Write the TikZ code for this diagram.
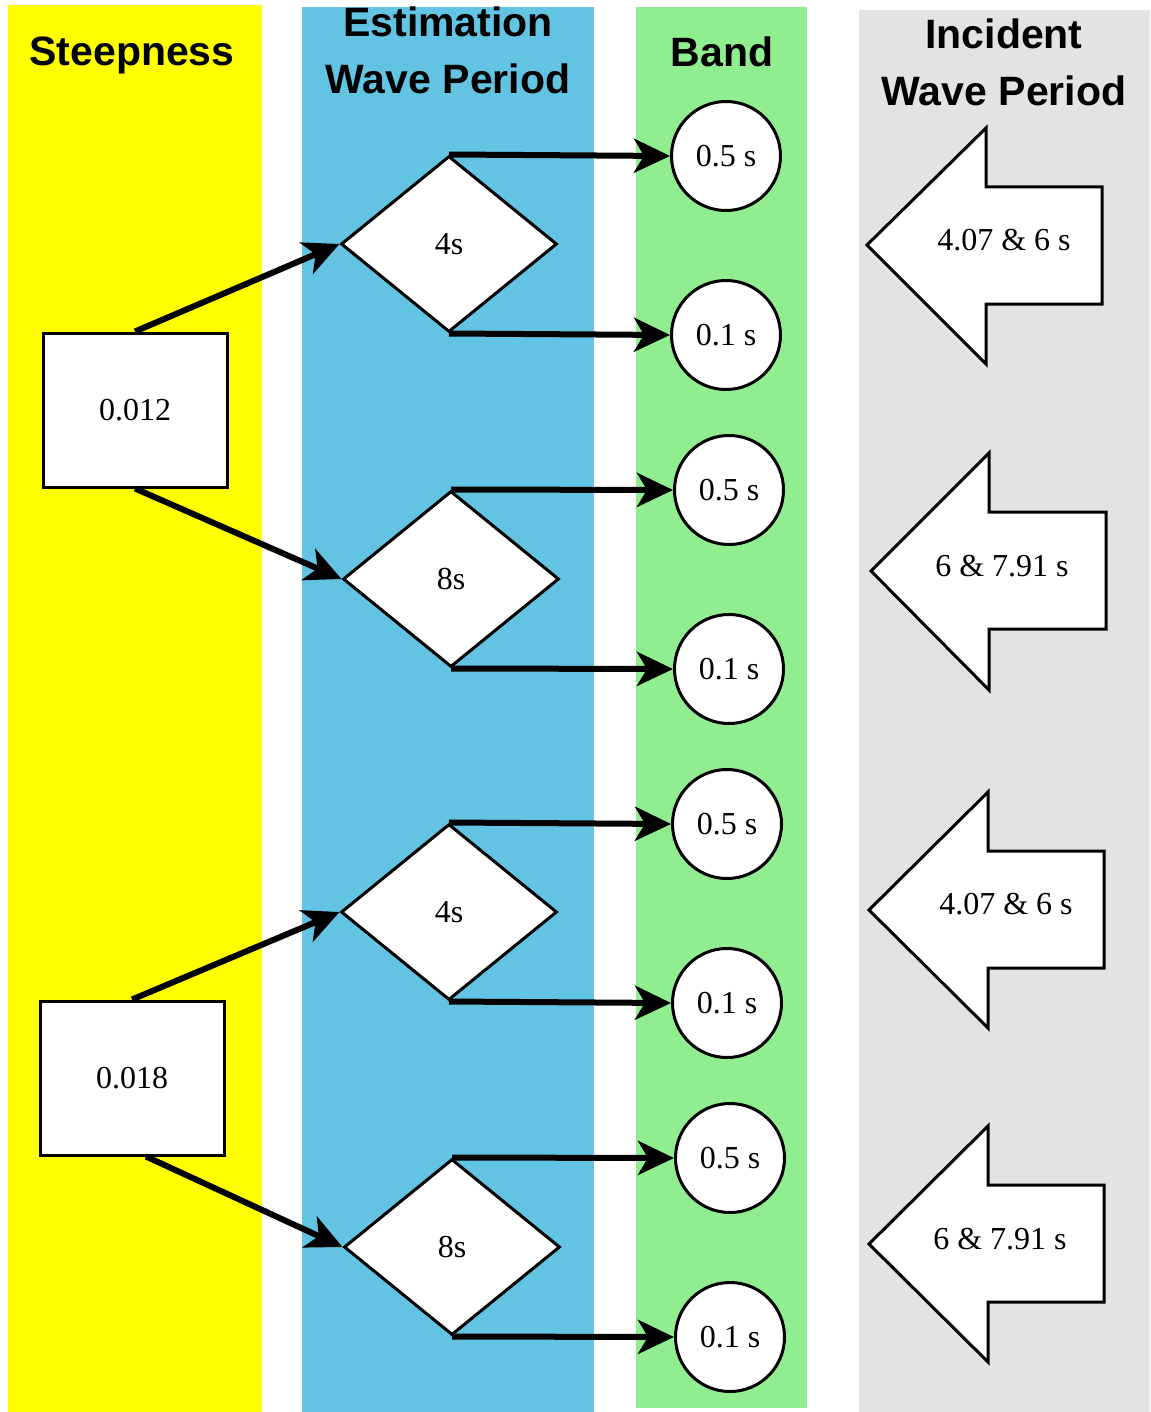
\documentclass[tikz,border=0pt]{standalone}
\usepackage{fontspec}
\setmainfont{Liberation Serif}
\setsansfont{Liberation Sans}
\usetikzlibrary{shapes.geometric,arrows.meta}
\definecolor{colY}{RGB}{255,255,0}
\definecolor{colB}{RGB}{99,195,227}
\definecolor{colG}{RGB}{144,238,144}
\definecolor{colR}{RGB}{227,227,227}
\tikzset{
  band/.style={fill=#1,draw=none},
  title/.style={font=\sffamily\bfseries\fontsize{20.5}{28.5}\selectfont,align=center,inner sep=0pt},
  lbl/.style={font=\fontsize{16}{19}\selectfont},
  steepbox/.style={draw,line width=1.5pt,fill=white,minimum width=92pt,minimum height=77pt,inner sep=0pt,font=\fontsize{16}{19}\selectfont},
  periodbox/.style={draw,diamond,line width=1.5pt,fill=white,minimum width=108pt,minimum height=88pt,inner sep=0pt,font=\fontsize{16}{19}\selectfont},
  bandbox/.style={draw,circle,line width=1.5pt,fill=white,minimum size=54.5pt,inner sep=0pt,font=\fontsize{16}{19}\selectfont},
  blockarrow/.style={draw,line width=1.5pt,fill=white,line join=miter},
  conn/.style={line width=3pt,-{Stealth[length=18pt,width=17pt,inset=5pt]}},
}
\begin{document}
\begin{tikzpicture}[x=0.5pt,y=-0.5pt]
\useasboundingbox (0,0) rectangle (1150,1412);
% bands
\fill[band=colY] (8,5) rectangle (262,1412);
\fill[band=colB] (302,7) rectangle (594,1412);
\fill[band=colG] (636,7) rectangle (807,1408);
\fill[band=colR] (859,10) rectangle (1150,1412);
% titles
\node[title] (t1) at (132,55) {Steepness};
\node[title] (t2) at (448,50) {Estimation\\Wave Period};
\node[title] (t3) at (722,52) {Band};
\node[title] (t4) at (1004,62) {Incident\\Wave Period};
% steepness boxes
\node[steepbox] (s1) at (135,410) {0.012};
\node[steepbox] (s2) at (132,1078) {0.018};
% diamonds
\node[periodbox] (d1) at (449,244) {4s};
\node[periodbox] (d2) at (451,579) {8s};
\node[periodbox] (d3) at (449,912) {4s};
\node[periodbox] (d4) at (452,1247) {8s};
% circles
\node[bandbox] (c1) at (726,156) {0.5 s};
\node[bandbox] (c2) at (726,335) {0.1 s};
\node[bandbox] (c3) at (729,490) {0.5 s};
\node[bandbox] (c4) at (729,669) {0.1 s};
\node[bandbox] (c5) at (727,824) {0.5 s};
\node[bandbox] (c6) at (727,1003) {0.1 s};
\node[bandbox] (c7) at (730,1158) {0.5 s};
\node[bandbox] (c8) at (730,1337) {0.1 s};
% connectors
\draw[conn] (s1.north) -- (d1.west);
\draw[conn] (s1.south) -- (d2.west);
\draw[conn] (s2.north) -- (d3.west);
\draw[conn] ([xshift=7pt]s2.south) -- (d4.west);
\draw[conn] (d1.north) -- (c1.west);
\draw[conn] (d1.south) -- (c2.west);
\draw[conn] (d2.north) -- (c3.west);
\draw[conn] (d2.south) -- (c4.west);
\draw[conn] (d3.north) -- (c5.west);
\draw[conn] (d3.south) -- (c6.west);
\draw[conn] (d4.north) -- (c7.west);
\draw[conn] (d4.south) -- (c8.west);
% incident block arrows
\draw[blockarrow] (867,245) -- (986,128) -- (986,187) -- (1102,187) -- (1102,304) -- (986,304) -- (986,364) -- cycle;
\node[lbl] (a1) at (1004,240) {4.07 \& 6 s};
\draw[blockarrow] (871,571) -- (989,453) -- (989,512) -- (1106,512) -- (1106,629) -- (989,629) -- (989,690) -- cycle;
\node[lbl] (a2) at (1002,566) {6 \& 7.91 s};
\draw[blockarrow] (869,910) -- (988,792) -- (988,851) -- (1104,851) -- (1104,968) -- (988,968) -- (988,1028) -- cycle;
\node[lbl] (a3) at (1006,904) {4.07 \& 6 s};
\draw[blockarrow] (869,1244) -- (988,1126) -- (988,1185) -- (1104,1185) -- (1104,1302) -- (988,1302) -- (988,1362) -- cycle;
\node[lbl] (a4) at (1000,1239) {6 \& 7.91 s};
\end{tikzpicture}
\end{document}
